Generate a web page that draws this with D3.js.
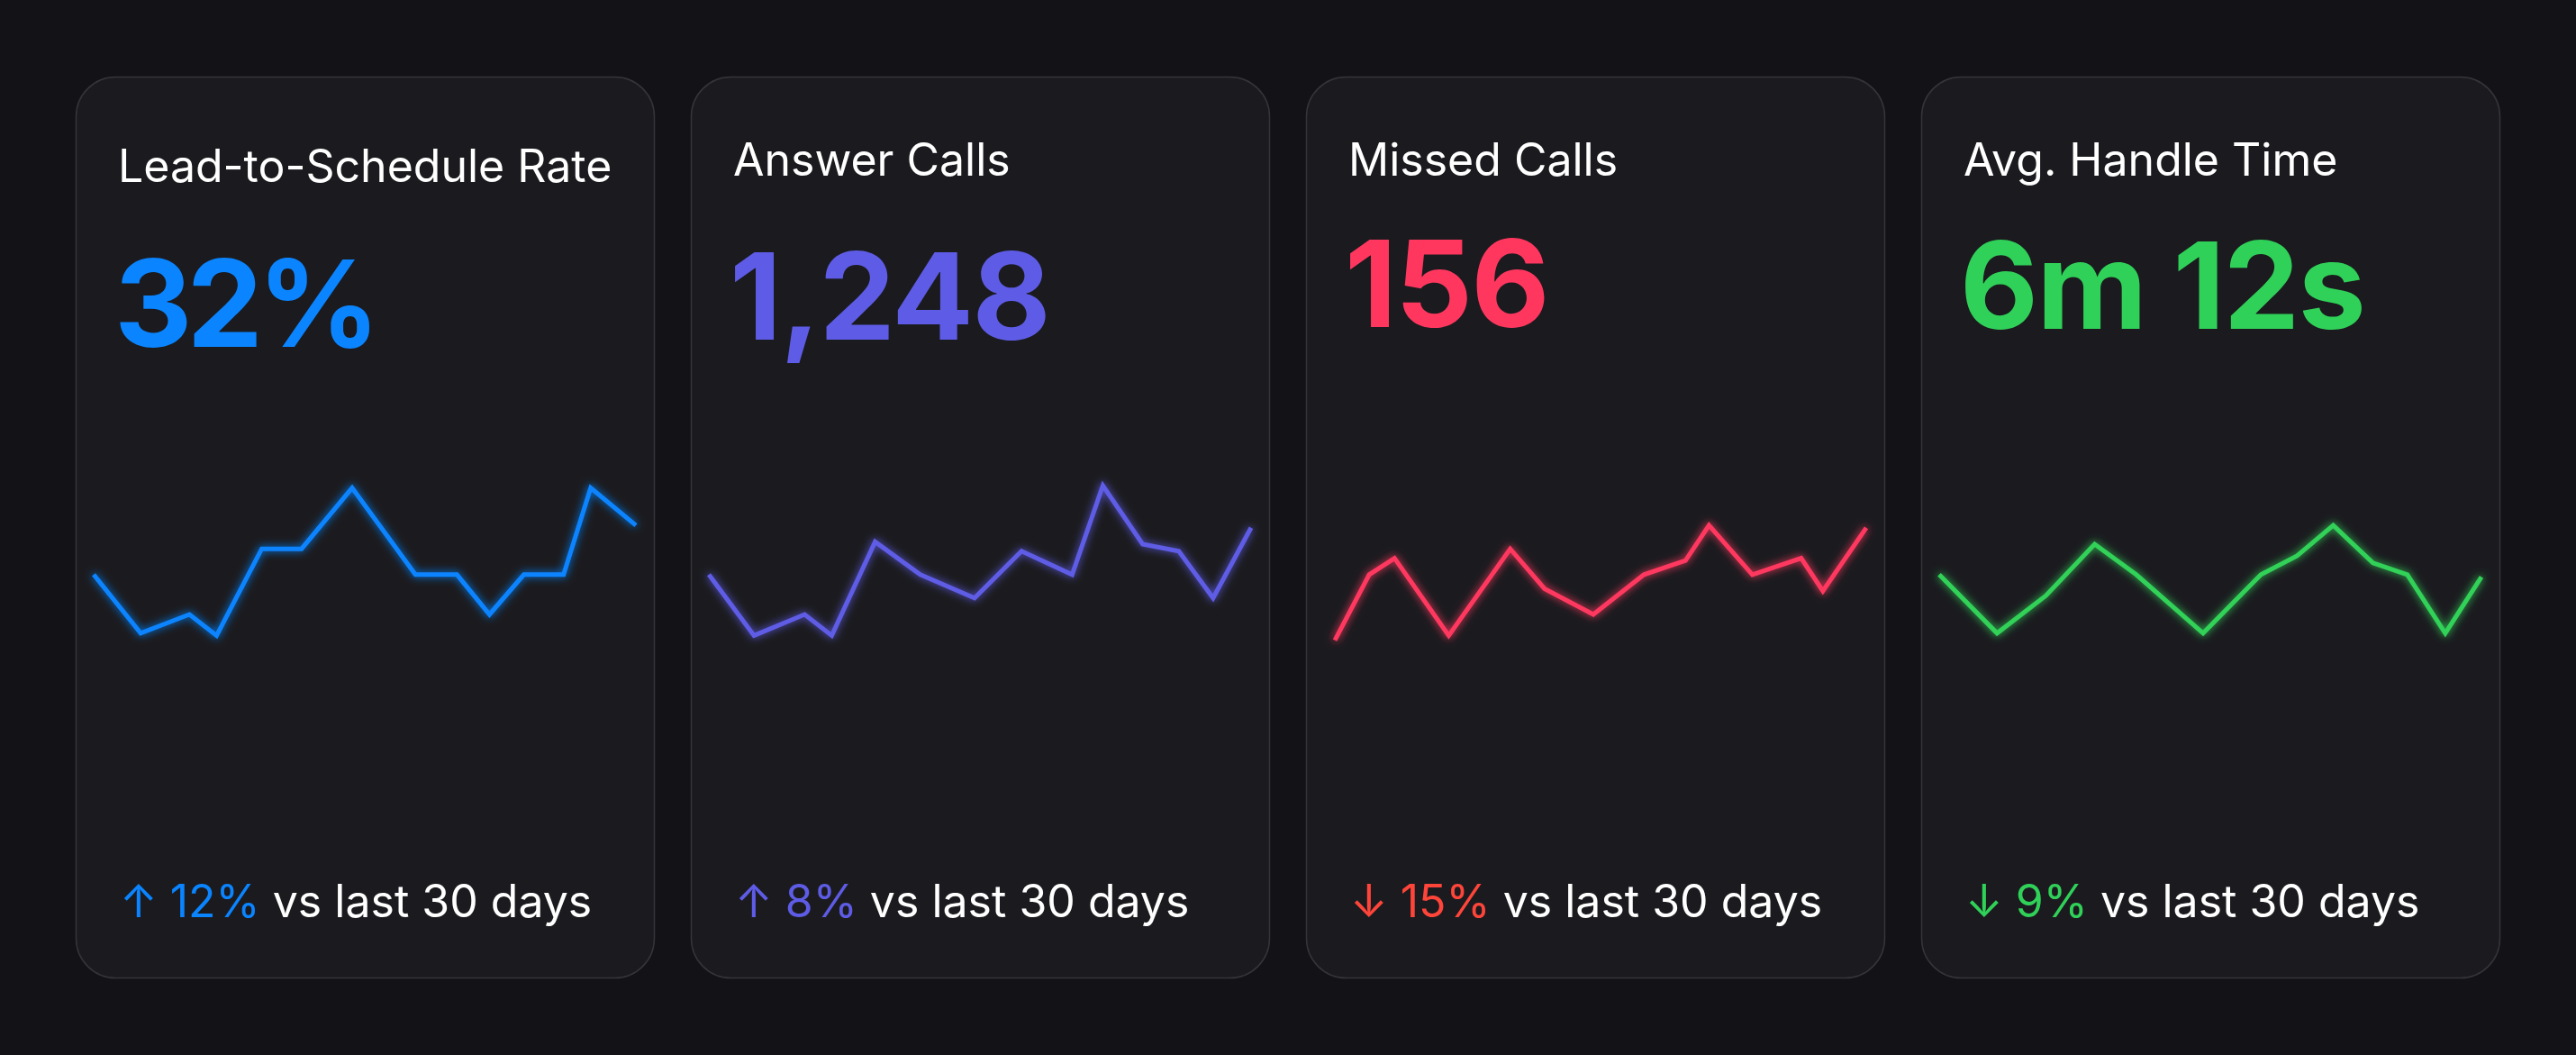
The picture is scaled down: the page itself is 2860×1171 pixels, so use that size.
<!DOCTYPE html>
<html>
<head>
<meta charset="utf-8">
<script src="https://cdn.jsdelivr.net/npm/d3@7"></script>
<style>
    html, body { margin: 0; background: #131317; }
    svg { display: block; font-family: Inter, "Noto Sans", sans-serif; }
</style>
</head>
<body>
<svg id="chart"></svg>
<script>
// данные карточек
const titles = ["Lead-to-Schedule Rate", "Answer Calls", "Missed Calls", "Avg. Handle Time"];
const values = ["32%", "1,248", "156", "6m 12s"];
const changes = ["12%", "8%", "15%", "9%"];
const directions = ["up", "up", "down", "down"];
const footnote = "vs last 30 days";

// спарклайны: день (0..30) и значение (0..100)
const leadDays   = [0, 2.6, 5.3, 6.8, 9.3, 11.5, 14.3, 17.8, 20.1, 21.9, 23.8, 26, 27.5, 30];
const leadValues = [47, 22, 30, 21, 58, 58, 84, 47, 47, 30, 47, 47, 84, 68];

const answerDays   = [0, 2.5, 5.3, 6.8, 9.2, 11.7, 14.7, 17.3, 20.1, 21.8, 24, 26, 27.9, 30];
const answerValues = [47, 21, 30, 21, 61, 47, 37, 57, 47, 85, 60, 57, 37, 67];

const missedDays   = [0.6, 2.5, 3.9, 6.9, 10.3, 12.2, 14.9, 17.7, 20, 21.3, 23.7, 26.4, 27.6, 30];
const missedValues = [19, 47, 54, 21, 58, 41, 30, 47, 53, 68, 47, 54, 40, 67];

const handleDays   = [0, 3.2, 5.9, 8.6, 10.9, 14.6, 17.8, 19.8, 21.8, 24, 25.9, 28, 30];
const handleValues = [47, 22, 38, 60, 47, 22, 47, 55, 68, 52, 47, 22, 46];

const seriesDays = [leadDays, answerDays, missedDays, handleDays];
const seriesValues = [leadValues, answerValues, missedValues, handleValues];

// цвета
const colors = ["#0A84FF", "#5E5CE6", "#FF375F", "#30D158"];
const changeColors = ["#0A84FF", "#5E5CE6", "#FF453A", "#30D158"];

// раскладка
const W = 2860, H = 1171;
const card = { x0: 84, step: 683, y: 85, w: 642, h: 1000, r: 44, pad: 47 };
const titleY = [117, 110, 110, 110];   // базовая линия заголовка
const valueY = [300, 292, 278, 280];   // базовая линия числа
const footY = 933;

let svg = d3.select("#chart").attr("width", W).attr("height", H);

// фильтры свечения
let defs = svg.append("defs");
colors.forEach((c, i) => {
    let f = defs.append("filter").attr("id", "glow" + i)
        .attr("x", "-10%").attr("y", "-30%").attr("width", "120%").attr("height", "160%");
    f.append("feGaussianBlur").attr("in", "SourceGraphic").attr("stdDeviation", 5).attr("result", "b");
    let m = f.append("feMerge");
    m.append("feMergeNode").attr("in", "b");
    m.append("feMergeNode").attr("in", "SourceGraphic");
});

// шкалы спарклайна (внутри карточки)
let scX = d3.scaleLinear().domain([0, 30]).range([20, 622]);
let scY = d3.scaleLinear().domain([0, 100]).range([675, 415]);

let line = d3.line().x(d => scX(d[0])).y(d => scY(d[1]));

titles.forEach((t, i) => {
    let g = svg.append("g")
        .attr("transform", `translate(${card.x0 + i * card.step}, ${card.y})`);

    g.append("rect")
        .attr("x", 0.5).attr("y", 0.5)
        .attr("width", card.w).attr("height", card.h)
        .attr("rx", card.r)
        .attr("fill", "#1b1b1f")
        .attr("stroke", "#34343a")
        .attr("stroke-width", 1.5);

    // заголовок
    g.append("text")
        .attr("x", card.pad).attr("y", titleY[i])
        .attr("fill", "#ffffff")
        .attr("font-size", 50)
        .attr("font-weight", 400)
        .text(t);

    // большое число
    g.append("text")
        .attr("x", card.pad - 4).attr("y", valueY[i])
        .attr("fill", colors[i])
        .attr("font-size", 134)
        .attr("font-weight", 700)
        .attr("letter-spacing", i === 0 ? -6 : -1.5)
        .text(values[i]);

    // линия
    let pts = d3.zip(seriesDays[i], seriesValues[i]);
    g.append("path")
        .datum(pts)
        .attr("d", line)
        .attr("fill", "none")
        .attr("stroke", colors[i])
        .attr("stroke-width", 5)
        .attr("stroke-linejoin", "miter")
        .attr("filter", `url(#glow${i})`);

    // подпись снизу
    let ft = g.append("text")
        .attr("x", card.pad + 2).attr("y", footY)
        .attr("font-size", 50)
        .attr("font-weight", 400);
    ft.append("tspan")
        .attr("fill", changeColors[i])
        .text((directions[i] === "up" ? "\u2191 " : "\u2193 ") + changes[i]);
    ft.append("tspan")
        .attr("fill", "#ffffff")
        .text(" " + footnote);
});
</script>
</body>
</html>
